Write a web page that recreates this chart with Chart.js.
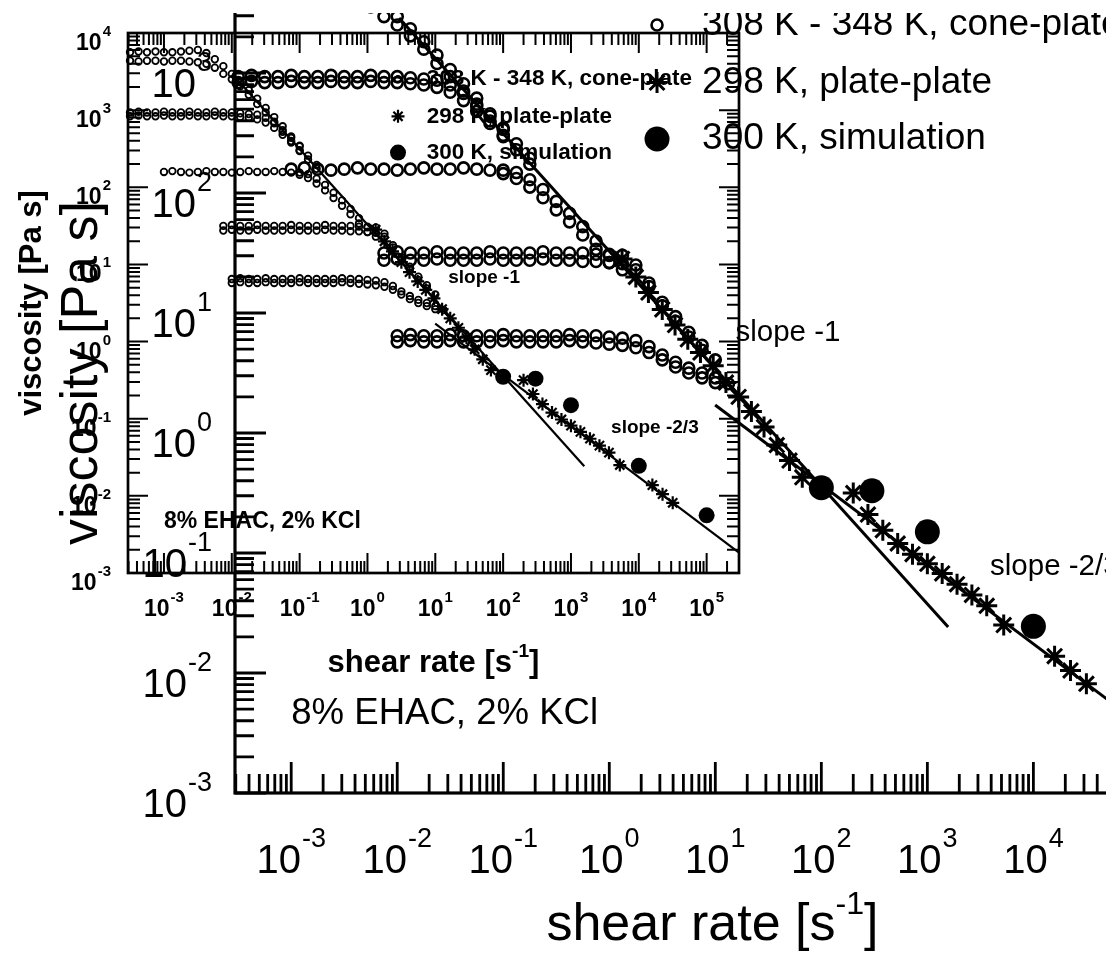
<!DOCTYPE html>
<html>
<head>
<meta charset="utf-8">
<title>viscosity vs shear rate</title>
<script src="https://cdn.jsdelivr.net/npm/chart.js@4.4.1/dist/chart.umd.min.js"></script>
<style>
html, body { margin: 0; padding: 0; background: #fff; overflow: hidden; }
#wrap { position: relative; width: 1115px; height: 960px; overflow: hidden; background: #fff; }
#bigwrap { position: absolute; left: 0; top: 13px; width: 1106px; height: 947px; overflow: hidden; }
#big { position: absolute; left: 0; top: -113px; }
#inset { position: absolute; left: 0; top: 0; }
</style>
</head>
<body>
<div id="wrap">
<div id="bigwrap"><canvas id="big" width="1300" height="1060"></canvas></div>
<canvas id="inset" width="1115" height="960"></canvas>
</div>
<script>
// cone-plate runs, 308 K ... 348 K (two runs each), shear rate [1/s] -> viscosity [Pa s]
var rates308 = [3.16e-4, 4.22e-4, 5.62e-4, 7.5e-4, 1e-3, 1.33e-3, 1.78e-3, 2.37e-3, 3.16e-3, 4.22e-3, 5.62e-3, 7.5e-3, 0.01, 0.0133, 0.0178, 0.0237, 0.0316, 0.0422, 0.0562, 0.075, 0.1];
var visc308a = [5620, 5750, 5620, 5750, 5620, 5620, 5750, 5890, 6030, 5500, 4570, 3720, 2950, 2340, 1820, 1410, 1070, 813, 617, 457, 347];
var visc308b = [4370, 4270, 4370, 4370, 4270, 4370, 4370, 4270, 4170, 3980, 3550, 2950, 2510, 2040, 1580, 1200, 933, 708, 525, 398, 302];

var rates318 = [3.16e-4, 4.22e-4, 5.62e-4, 7.5e-4, 1e-3, 1.33e-3, 1.78e-3, 2.37e-3, 3.16e-3, 4.22e-3, 5.62e-3, 7.5e-3, 0.01, 0.0133, 0.0178, 0.0237, 0.0316, 0.0422, 0.0562, 0.075, 0.1, 0.133, 0.178];
var visc318a = [933, 955, 933, 933, 955, 933, 933, 955, 933, 933, 955, 933, 933, 912, 891, 871, 794, 676, 550, 437, 339, 257, 195];
var visc318b = [832, 851, 832, 832, 851, 832, 832, 851, 832, 832, 851, 832, 832, 813, 794, 759, 692, 589, 479, 380, 295, 229, 174];

var rates328 = [1e-3, 1.33e-3, 1.78e-3, 2.37e-3, 3.16e-3, 4.22e-3, 5.62e-3, 7.5e-3, 0.01, 0.0133, 0.0178, 0.0237, 0.0316, 0.0422, 0.0562, 0.075, 0.1, 0.133, 0.178, 0.237, 0.316, 0.422, 0.562, 0.75, 1.0, 1.33];
var visc328a = [158, 162, 158, 155, 158, 162, 158, 158, 155, 158, 162, 158, 158, 162, 158, 155, 155, 148, 129, 107, 85.1, 67.6, 52.5, 39.8, 30.2, 22.9];
var visc328b = [null, null, null, null, null, null, null, null, null, null, null, null, null, null, null, null, 145, 132, 112, 91.2, 72.4, 57.5, 44.7, 33.9, 26.3, null];

var rates338 = [7.5e-3, 0.01, 0.0133, 0.0178, 0.0237, 0.0316, 0.0422, 0.0562, 0.075, 0.1, 0.133, 0.178, 0.237, 0.316, 0.422, 0.562, 0.75, 1.0, 1.33, 1.78, 2.37, 3.16, 4.22, 5.62, 7.5, 10];
var visc338a = [31.6, 32.4, 31.6, 31.6, 32.4, 31.6, 31.6, 31.6, 32.4, 31.6, 31.6, 31.6, 32.4, 31.6, 31.6, 31.6, 30.9, 30.9, 30.2, 25.1, 17.8, 12.3, 9.33, 6.92, 5.37, 4.07];
var visc338b = [27.5, 28.2, 27.5, 27.5, 28.2, 27.5, 27.5, 27.5, 28.2, 27.5, 27.5, 27.5, 28.2, 27.5, 27.5, 26.9, 26.9, 26.3, 25.7, 22.9, 16.6, 11.5, 8.51, 6.31, 4.90, null];

var rates348 = [0.01, 0.0133, 0.0178, 0.0237, 0.0316, 0.0422, 0.0562, 0.075, 0.1, 0.133, 0.178, 0.237, 0.316, 0.422, 0.562, 0.75, 1.0, 1.33, 1.78, 2.37, 3.16, 4.22, 5.62, 7.5, 10, 13.3];
var visc348a = [6.46, 6.61, 6.46, 6.46, 6.61, 6.46, 6.46, 6.46, 6.61, 6.46, 6.46, 6.46, 6.46, 6.61, 6.46, 6.46, 6.31, 6.17, 5.89, 5.25, 4.47, 3.89, 3.47, 3.16, 2.88, 2.57];
var visc348b = [5.75, 5.89, 5.75, 5.75, 5.89, 5.75, 5.75, 5.75, 5.89, 5.75, 5.75, 5.75, 5.75, 5.89, 5.75, 5.62, 5.50, 5.37, 5.13, 4.68, 4.07, 3.55, 3.16, 2.88, 2.63, null];

// 298 K, plate-plate
var starRates = [1.32, 1.78, 2.34, 3.16, 4.17, 5.50, 7.24, 9.55, 12.6, 16.6, 21.9, 28.8, 38.0, 50.1, 66.1, 200, 275, 380, 525, 724, 1000, 1380, 1905, 2630, 3630, 5250, 15850, 22390, 31620];
var starVisc = [28.2, 19.95, 14.8, 10.7, 7.94, 6.03, 4.68, 3.63, 2.63, 2.0, 1.51, 1.12, 0.794, 0.589, 0.427, 0.316, 0.209, 0.155, 0.120, 0.0977, 0.0813, 0.0676, 0.0550, 0.0447, 0.0363, 0.0251, 0.0138, 0.0105, 0.00813];

// 300 K, simulation
var simRates = [100, 300, 1000, 10000, 100000];
var simVisc = [0.35, 0.33, 0.15, 0.0245, 0.0056];

// guide lines
var slopeOneRates = [0.0104, 1571];
var slopeOneVisc = [2870, 0.0242];
var slopeTwoRates = [9.96, 293000];
var slopeTwoVisc = [1.71, 0.00186];

var xExps = [-3, -2, -1, 0, 1, 2, 3, 4, 5];
var yExps = [-3, -2, -1, 0, 1, 2, 3, 4];
var xRange = [2.95e-4, 3.0e5];
var yRange = [1e-3, 1e4];
var legendLabels = ['308 K - 348 K, cone-plate', '298 K, plate-plate', '300 K, simulation'];

// where text sits, in data units
var spots = {
    legendSymX: 2.82, legendTextX: 7.5, legendY: [2512, 832, 282],
    slopeOne: [15.5, 6.8], slopeTwo: [3900, 0.077], note: [1.0e-3, 4.6e-3]
};

var FONT = '"Liberation Sans", Arial, Helvetica, sans-serif';
var styles = {
    big: { weight: 'normal', tick: 40, sup: 27, rise: 26, xLab: 80, yGap: 23, yLab: 24,
        axisW: 3.2, tickW: 2.8, major: 31, minor: 19, title: 52, xTitle: 147, yTitle: 138,
        legend: 37, ann: 29.5, note: 36.6, lineW: 3, openR: 5.5, openW: 2.6, starR: 10.5, starW: 3, dotR: 12.5 },
    inset: { weight: 'bold', tick: 23, sup: 15, rise: 14, xLab: 43, yGap: 17, yLab: 17,
        axisW: 2.7, tickW: 2, major: 20, minor: 12, title: 31, xTitle: 99, yTitle: 87,
        legend: 22.5, ann: 19, note: 23, lineW: 2.2, openR: 3.3, openW: 1.8, starR: 6.5, starW: 2.2, dotR: 8 }
};

function pairs(xs, ys) {
    var out = [];
    for (var i = 0; i < xs.length; i++) {
        if (ys[i] != null) out.push({ x: xs[i], y: ys[i] });
    }
    return out;
}

function logTicks(r) {
    var out = [];
    for (var d = Math.floor(Math.log10(r[0])); d <= Math.ceil(Math.log10(r[1])); d++) {
        for (var m = 1; m <= 9; m++) {
            var v = m * Math.pow(10, d);
            if (v >= r[0] && v <= r[1] * 1.0001) out.push({ v: v, major: m === 1 });
        }
    }
    return out;
}

function font(st, size) { return st.weight + ' ' + size + 'px ' + FONT; }

function drawPow(ctx, x, y, exp, st, align) {
    var e = String(exp);
    ctx.font = font(st, st.tick);
    var wb = ctx.measureText('10').width;
    ctx.font = font(st, st.sup);
    var ws = ctx.measureText(e).width;
    var total = wb + 1 + ws;
    var x0 = align === 'center' ? x - total / 2 : x - total;
    ctx.textAlign = 'left';
    ctx.textBaseline = 'alphabetic';
    ctx.font = font(st, st.tick);
    ctx.fillText('10', x0, y);
    ctx.font = font(st, st.sup);
    ctx.fillText(e, x0 + wb + 1, y - st.rise);
}

function drawMarker(ctx, kind, x, y, st) {
    ctx.beginPath();
    if (kind === 'open') {
        ctx.lineWidth = st.openW;
        ctx.arc(x, y, st.openR, 0, Math.PI * 2);
        ctx.stroke();
    } else if (kind === 'dot') {
        ctx.arc(x, y, st.dotR, 0, Math.PI * 2);
        ctx.fill();
    } else {
        ctx.lineWidth = st.starW;
        for (var k = 0; k < 4; k++) {
            var a = k * Math.PI / 4, c = Math.cos(a) * st.starR, s = Math.sin(a) * st.starR;
            ctx.moveTo(x - c, y - s);
            ctx.lineTo(x + c, y + s);
        }
        ctx.stroke();
    }
}

var framePlugin = {
    id: 'frame',
    afterDraw: function (chart) {
        var st = styles[chart.canvas.id];
        var ctx = chart.ctx, a = chart.chartArea, sx = chart.scales.x, sy = chart.scales.y;
        ctx.save();
        ctx.strokeStyle = '#000';
        ctx.fillStyle = '#000';

        // frame and inward ticks
        ctx.lineWidth = st.axisW;
        ctx.strokeRect(a.left, a.top, a.right - a.left, a.bottom - a.top);
        ctx.lineWidth = st.tickW;
        ctx.beginPath();
        logTicks(xRange).forEach(function (t) {
            var p = sx.getPixelForValue(t.v), len = t.major ? st.major : st.minor;
            ctx.moveTo(p, a.bottom); ctx.lineTo(p, a.bottom - len);
            ctx.moveTo(p, a.top); ctx.lineTo(p, a.top + len);
        });
        logTicks(yRange).forEach(function (t) {
            var p = sy.getPixelForValue(t.v), len = t.major ? st.major : st.minor;
            ctx.moveTo(a.left, p); ctx.lineTo(a.left + len, p);
            ctx.moveTo(a.right, p); ctx.lineTo(a.right - len, p);
        });
        ctx.stroke();

        // tick labels
        xExps.forEach(function (e) {
            drawPow(ctx, sx.getPixelForValue(Math.pow(10, e)), a.bottom + st.xLab, e, st, 'center');
        });
        yExps.forEach(function (e) {
            drawPow(ctx, a.left - st.yGap, sy.getPixelForValue(Math.pow(10, e)) + st.yLab, e, st, 'right');
        });

        // x title with superscript
        var supT = st.title * 0.62;
        ctx.font = font(st, st.title);
        var w1 = ctx.measureText('shear rate [s').width;
        var w3 = ctx.measureText(']').width;
        ctx.font = font(st, supT);
        var w2 = ctx.measureText('-1').width;
        var x0 = (a.left + a.right) / 2 - (w1 + w2 + w3) / 2, base = a.bottom + st.xTitle;
        ctx.textAlign = 'left';
        ctx.textBaseline = 'alphabetic';
        ctx.font = font(st, st.title);
        ctx.fillText('shear rate [s', x0, base);
        ctx.fillText(']', x0 + w1 + w2, base);
        ctx.font = font(st, supT);
        ctx.fillText('-1', x0 + w1, base - st.title * 0.5);

        // y title
        ctx.save();
        ctx.translate(a.left - st.yTitle, (a.top + a.bottom) / 2);
        ctx.rotate(-Math.PI / 2);
        ctx.textAlign = 'center';
        ctx.font = font(st, st.title);
        ctx.fillText('viscosity [Pa s]', 0, 0);
        ctx.restore();

        // legend
        var kinds = ['open', 'star', 'dot'];
        ctx.textBaseline = 'middle';
        ctx.textAlign = 'left';
        legendLabels.forEach(function (lab, i) {
            var y = sy.getPixelForValue(spots.legendY[i]);
            drawMarker(ctx, kinds[i], sx.getPixelForValue(spots.legendSymX), y, st);
            ctx.font = font(st, st.legend);
            ctx.fillText(lab, sx.getPixelForValue(spots.legendTextX), y);
        });

        // annotations
        ctx.font = font(st, st.ann);
        ctx.fillText('slope -1', sx.getPixelForValue(spots.slopeOne[0]), sy.getPixelForValue(spots.slopeOne[1]));
        ctx.fillText('slope -2/3', sx.getPixelForValue(spots.slopeTwo[0]), sy.getPixelForValue(spots.slopeTwo[1]));
        ctx.font = font(st, st.note);
        ctx.fillText('8% EHAC, 2% KCl', sx.getPixelForValue(spots.note[0]), sy.getPixelForValue(spots.note[1]));
        ctx.restore();
    }
};

function buildDatasets(st) {
    var ds = [];
    var runs = [[rates308, visc308a], [rates308, visc308b], [rates318, visc318a], [rates318, visc318b],
        [rates328, visc328a], [rates328, visc328b], [rates338, visc338a], [rates338, visc338b],
        [rates348, visc348a], [rates348, visc348b]];
    runs.forEach(function (r) {
        ds.push({
            data: pairs(r[0], r[1]), showLine: false, clip: false,
            pointStyle: 'circle', pointRadius: st.openR, pointBorderWidth: st.openW,
            pointBorderColor: '#000', pointBackgroundColor: 'rgba(0,0,0,0)'
        });
    });
    ds.push({
        data: pairs(starRates, starVisc), showLine: false, clip: false,
        pointStyle: 'star', pointRadius: st.starR, pointBorderWidth: st.starW,
        pointBorderColor: '#000', pointBackgroundColor: '#000'
    });
    ds.push({
        data: pairs(simRates, simVisc), showLine: false, clip: false,
        pointStyle: 'circle', pointRadius: st.dotR, pointBorderWidth: 0,
        pointBorderColor: '#000', pointBackgroundColor: '#000'
    });
    ds.push({ data: pairs(slopeOneRates, slopeOneVisc), showLine: true, clip: false, pointRadius: 0, borderWidth: st.lineW, borderColor: '#000' });
    ds.push({ data: pairs(slopeTwoRates, slopeTwoVisc), showLine: true, clip: false, pointRadius: 0, borderWidth: st.lineW, borderColor: '#000' });
    return ds;
}

function makeChart(id, pad) {
    return new Chart(document.getElementById(id), {
        type: 'scatter',
        data: { datasets: buildDatasets(styles[id]) },
        options: {
            responsive: false,
            animation: false,
            devicePixelRatio: 1,
            events: [],
            layout: { padding: pad },
            scales: {
                x: { type: 'logarithmic', min: xRange[0], max: xRange[1], display: false },
                y: { type: 'logarithmic', min: yRange[0], max: yRange[1], display: false }
            },
            plugins: { legend: { display: false }, tooltip: { enabled: false } }
        },
        plugins: [framePlugin]
    });
}

makeChart('big', { left: 235, top: 53, right: 110, bottom: 167 });
makeChart('inset', { left: 128, top: 33, right: 376, bottom: 387 });
</script>
</body>
</html>
